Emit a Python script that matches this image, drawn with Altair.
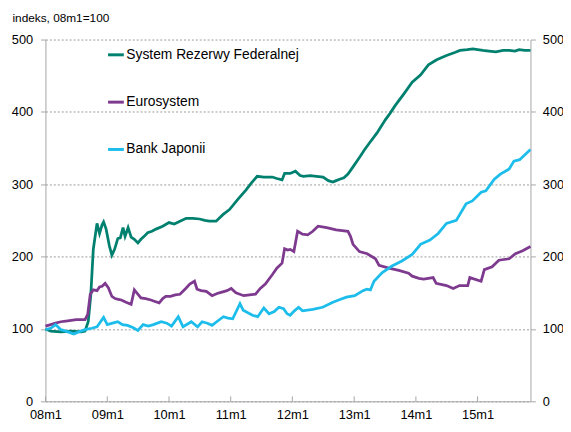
import altair as alt
import pandas as pd

# months since 08m1 (t) and index values (v)
fed_t = [0, 1, 3, 5, 7, 7.7, 8.3, 8.8, 9.3, 10, 10.5, 11, 11.3, 11.8, 12.4, 12.9, 13.4, 14.1, 14.6, 15.1,
         15.5, 16.1, 16.7, 17.3, 18, 18.6, 19.2, 19.9, 20.7, 21.5, 22.8, 24, 25, 26.2, 27.4, 28.7, 30, 31,
         31.9, 33.2, 34.5, 35.8, 37.5, 39, 40.1, 41.2, 42.5, 44.1, 45, 46, 46.5, 47.6, 48.6, 49.5, 50.2,
         51.5, 52.7, 54, 55, 55.9, 56.5, 57.2, 58, 58.8, 59.8, 61, 62, 63, 64.5, 66.1, 67, 68, 69.7, 71.3,
         72.9, 74.5, 76.1, 78, 79.6, 80.6, 82, 83.1, 85, 86.3, 87.6, 89, 90.2, 91.3, 92.1, 93.2, 94.3]
fed_v = [100, 97, 96, 97, 96, 97, 110, 146, 210, 246, 232, 244, 248, 238, 215, 202, 210, 225, 226, 240,
         228, 240, 227, 224, 219, 224, 228, 233, 235, 238, 242, 247, 245, 249, 253, 253, 252, 250,
         249, 249, 258, 265, 280, 292, 302, 311, 310, 310, 308, 306, 315, 315, 318, 312, 311,
         312, 311, 310, 305, 303, 305, 307, 309, 314, 324, 337, 347, 357, 371, 389, 398, 409, 425, 441,
         451, 465, 472, 478, 482, 485, 486, 487, 485, 484, 483, 485, 485, 484, 486, 485, 485]

euro_t = [0, 1, 2, 3, 4, 5, 6, 7.7, 8.2, 8.7, 9.3, 10, 10.5, 11, 11.6, 12.2, 12.9, 13.5, 14.2, 14.8,
          15.7, 16.7, 17.3, 17.9, 18.6, 19.5, 20.5, 21.3, 22.1, 22.8, 23.4, 24.3, 25.2, 26.2, 27.3, 28.1,
          29, 29.5, 30.3, 31.3, 32.4, 33.4, 34.3, 35.3, 36.1, 37, 38.6, 39.7, 40.9, 41.8, 42.8, 44.1, 45,
          46, 46.5, 47.1, 47.6, 48.3, 49, 50, 51, 52, 53, 54.7, 56.5, 57.7, 58.8, 59.3, 59.8, 61, 62.6,
          64.2, 64.9, 66.8, 68.7, 70.6, 71.3, 72.6, 73.5, 75.4, 76, 78, 79.3, 80.5, 82.1, 82.5, 84.7,
          85.3, 86.9, 88.2, 90.2, 91.4, 92.8, 94.3]
euro_v = [104, 106, 108, 110, 111, 112, 113, 113, 120, 148, 154, 153, 158, 159, 163, 157, 145, 142, 141, 140,
          137, 134, 154, 149, 143, 142, 140, 138, 136, 142, 145, 145, 147, 148, 156, 162,
          166, 155, 153, 152, 146, 149, 151, 153, 156, 150, 146, 147, 148, 156, 162, 175, 184,
          191, 211, 209, 210, 207, 235, 231, 230, 235, 242, 240, 237, 236, 235, 228, 217, 207, 204,
          197, 188, 184, 181, 177, 173, 170, 169, 171, 163, 160, 156, 160, 160, 171, 166,
          182, 186, 195, 197, 204, 208, 214]

boj_t = [0, 1, 2, 3, 4, 5.5, 6.5, 7.7, 9, 10, 11.3, 12, 13, 14.1, 15, 16, 17, 18, 19, 20, 21, 22.5, 23.6,
         24.5, 25.8, 26.8, 28.4, 29.6, 30.5, 31.5, 32.4, 33.5, 34.6, 35.5, 36.4, 37.8, 38.5, 40.3, 41.3,
         42.5, 43.5, 44.5, 45.4, 46.3, 47, 47.6, 48.4, 49.2, 50, 52, 53.9, 55.9, 57, 58.5, 60.1, 61.7,
         62.5, 63.2, 63.9, 65.5, 67.4, 69.3, 71.3, 72.6, 72.9, 74.8, 76.4, 78, 79.9, 81.8, 83, 84.7,
         85.6, 87.3, 88.5, 90.2, 91.1, 92.2, 94.3]
boj_v = [99, 101, 106, 99, 97, 93, 96, 99, 101, 103, 116, 106, 108, 110, 106, 105, 102, 98, 106, 104, 106, 110, 108,
         104, 117, 103, 110, 103, 110, 108, 105, 111, 117, 115, 114, 135, 126, 119, 117,
         129, 121, 124, 130, 128, 121, 119, 125, 130, 125, 127, 130, 137, 140, 144, 146, 153,
         155, 154, 166, 178, 187, 194, 203, 214, 217, 223, 232, 246, 250, 273, 277, 289,
         291, 307, 314, 321, 332, 334, 348]

series_names = ["System Rezerwy Federalnej", "Eurosystem", "Bank Japonii"]
series_colors = ["#00806F", "#7E3A8E", "#1CBDEB"]
tick_years = list(range(2008, 2016))


def to_date(t):
    m = int(t)
    frac = t - m
    d = pd.Timestamp("2008-01-01") + pd.DateOffset(months=m) + pd.Timedelta(days=round(frac * 30))
    return d.strftime("%Y-%m-%d")


rows = []
for name, ts, vs in [(series_names[0], fed_t, fed_v), (series_names[1], euro_t, euro_v),
                     (series_names[2], boj_t, boj_v)]:
    for t, v in zip(ts, vs):
        rows.append({"date": to_date(t), "value": v, "series": name})
df = pd.DataFrame(rows)
ticks_df = pd.DataFrame({"date": [f"{y}-01-01" for y in tick_years]})

W, H = 492, 367
FONT = "Liberation Sans"
GRAY = "#A6A6A6"

xscale = alt.Scale(type="utc", domain=[alt.DateTime(year=2008, month=1, date=1, utc=True),
                                       alt.DateTime(year=2015, month=11, date=10, utc=True)], nice=False)
yscale = alt.Scale(domain=[0, 500], nice=False)

xaxis = alt.Axis(values=[alt.DateTime(year=y, month=1, date=1, utc=True) for y in tick_years],
                 labelExpr="utcFormat(datum.value, '%y') + 'm1'", title=None, grid=False, ticks=False,
                 labelAlign="center", labelFlush=False,
                 domainColor=GRAY, labelFont=FONT, labelFontSize=13, labelColor="black", labelPadding=7)

lines = alt.Chart(df).mark_line(strokeWidth=2.8).encode(
    x=alt.X("date:T", scale=xscale, axis=xaxis),
    y=alt.Y("value:Q", scale=yscale,
            axis=alt.Axis(values=[0, 100, 200, 300, 400, 500], orient="left", title="indeks, 08m1=100",
                          titleAngle=0, titleAlign="left", titleBaseline="alphabetic", titleX=-34, titleY=-18,
                          titleFont=FONT, titleFontSize=12, titleFontWeight="normal", titleColor="black",
                          labelFont=FONT, labelFontSize=13, labelColor="black", labelPadding=8,
                          domainColor=GRAY, tickColor=GRAY, tickSize=5,
                          grid=True, gridColor="#808080", gridDash=[2, 2], gridWidth=0.8)),
    color=alt.Color("series:N", scale=alt.Scale(domain=series_names, range=series_colors),
                    legend=alt.Legend(title=None, orient="none", legendX=62, legendY=6, symbolType="stroke",
                                      symbolSize=256, symbolStrokeWidth=3, labelOffset=1, rowPadding=31,
                                      labelLimit=0,
                                      labelFont=FONT, labelFontSize=14, labelColor="black")),
)

right = alt.Chart(df).mark_line(opacity=0).encode(
    x=alt.X("date:T", scale=xscale),
    y=alt.Y("value:Q", scale=yscale,
            axis=alt.Axis(values=[0, 100, 200, 300, 400, 500], orient="right", title=None, grid=False,
                          labelFont=FONT, labelFontSize=13, labelColor="black", labelPadding=7,
                          domainColor=GRAY, tickColor=GRAY, tickSize=5)),
)

xticks = alt.Chart(ticks_df).mark_rule(color=GRAY, strokeWidth=1).encode(
    x=alt.X("date:T", scale=xscale),
    y=alt.value(H - 5), y2=alt.value(H),
)

chart = alt.layer(lines, xticks, right).resolve_scale(y="independent").properties(
    width=W, height=H,
    autosize=alt.AutoSizeParams(type="none"),
    padding={"left": 38, "top": 29, "right": 33, "bottom": 20},
).configure_view(stroke=None)

chart.save("out.html", embed_options={"renderer": "svg", "actions": False})
